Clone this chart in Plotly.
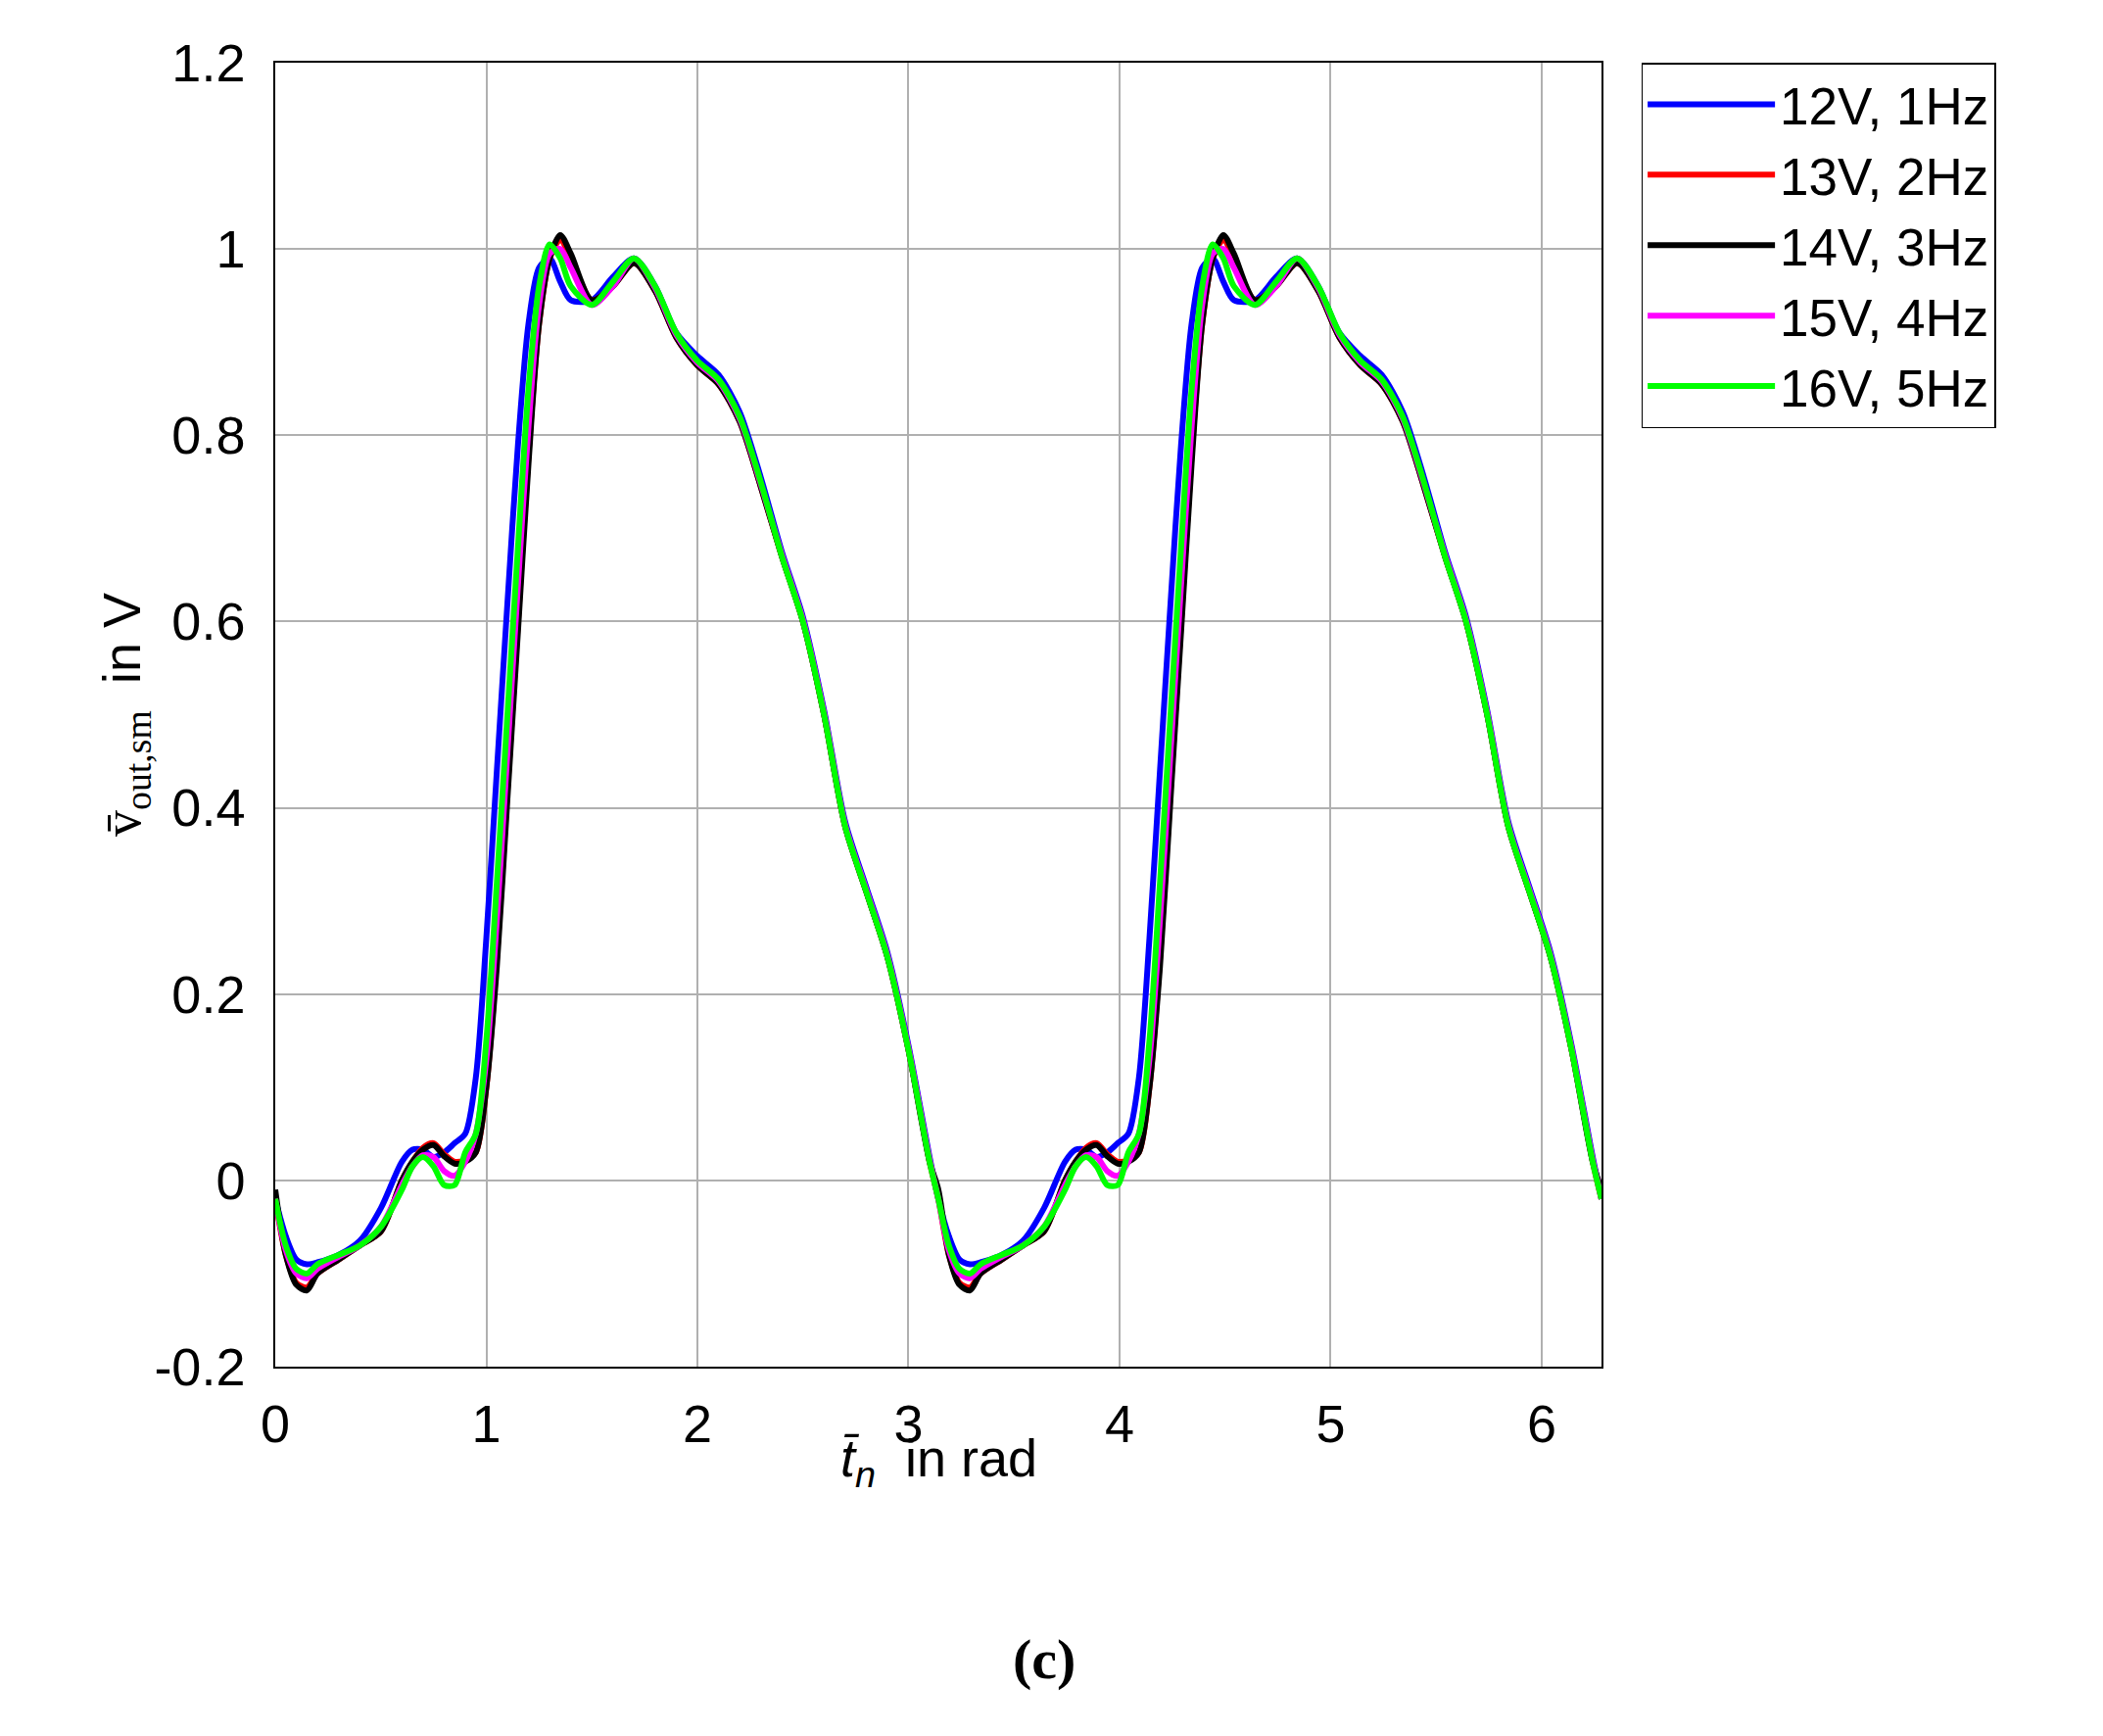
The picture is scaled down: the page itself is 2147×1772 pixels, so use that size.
import math
import plotly.graph_objects as go

# one period of the normalised time axis (the waveform repeats after pi)
t_period = [0, 0.05, 0.1, 0.15, 0.2, 0.3, 0.4, 0.5, 0.6, 0.65, 0.7, 0.75, 0.8, 0.85, 0.9,
            0.95, 1.0, 1.05, 1.1, 1.15, 1.2, 1.25, 1.3, 1.35, 1.4, 1.5, 1.6, 1.7, 1.8, 1.9,
            2.0, 2.1, 2.2, 2.3, 2.4, 2.5, 2.6, 2.7, 2.8, 2.9, 3.0, 3.1]

v_12v_1hz = [-0.02, -0.06, -0.085, -0.09, -0.088, -0.08, -0.065, -0.03, 0.02, 0.033, 0.033, 0.025, 0.03, 0.04, 0.05,
             0.11, 0.26, 0.44, 0.62, 0.79, 0.92, 0.98, 0.99, 0.965, 0.945, 0.945, 0.97, 0.99, 0.96, 0.91,
             0.885, 0.865, 0.825, 0.755, 0.675, 0.605, 0.505, 0.385, 0.315, 0.245, 0.145, 0.025]
v_13v_2hz = [-0.02, -0.08, -0.11, -0.115, -0.1, -0.085, -0.07, -0.055, 0.0, 0.02, 0.035, 0.04, 0.028, 0.02, 0.022,
             0.03, 0.10, 0.24, 0.42, 0.60, 0.78, 0.92, 0.99, 1.01, 0.99, 0.945, 0.96, 0.985, 0.955, 0.905,
             0.875, 0.855, 0.815, 0.745, 0.67, 0.6, 0.5, 0.38, 0.31, 0.24, 0.14, 0.02]
v_14v_3hz = [-0.01, -0.08, -0.112, -0.118, -0.1, -0.085, -0.07, -0.055, 0.0, 0.02, 0.033, 0.038, 0.026, 0.018, 0.02,
             0.03, 0.10, 0.23, 0.41, 0.59, 0.77, 0.92, 0.99, 1.015, 0.995, 0.945, 0.96, 0.985, 0.955, 0.905,
             0.875, 0.855, 0.815, 0.745, 0.67, 0.6, 0.5, 0.38, 0.31, 0.24, 0.14, 0.02]
v_15v_4hz = [-0.02, -0.075, -0.1, -0.105, -0.095, -0.082, -0.07, -0.05, -0.005, 0.015, 0.027, 0.025, 0.01, 0.005, 0.02,
             0.05, 0.13, 0.28, 0.46, 0.64, 0.81, 0.94, 0.995, 1.0, 0.98, 0.94, 0.96, 0.99, 0.958, 0.908,
             0.878, 0.858, 0.818, 0.748, 0.672, 0.602, 0.502, 0.382, 0.312, 0.242, 0.142, 0.022]
v_16v_5hz = [-0.02, -0.07, -0.095, -0.1, -0.09, -0.08, -0.07, -0.05, -0.01, 0.015, 0.025, 0.015, -0.005, -0.005, 0.03,
             0.05, 0.15, 0.32, 0.50, 0.68, 0.85, 0.96, 1.005, 0.99, 0.96, 0.94, 0.965, 0.99, 0.96, 0.91,
             0.88, 0.86, 0.82, 0.75, 0.67, 0.60, 0.50, 0.38, 0.31, 0.24, 0.14, 0.02]

series_names = ["12V, 1Hz", "13V, 2Hz", "14V, 3Hz", "15V, 4Hz", "16V, 5Hz"]
series_values = [v_12v_1hz, v_13v_2hz, v_14v_3hz, v_15v_4hz, v_16v_5hz]
series_colors = ["#0000ff", "#ff0000", "#000000", "#ff00ff", "#00ff00"]

x_ticks = [0, 1, 2, 3, 4, 5, 6]
y_ticks = [-0.2, 0, 0.2, 0.4, 0.6, 0.8, 1, 1.2]

t_full = t_period + [t + math.pi for t in t_period] + [2 * math.pi]

fig = go.Figure()
for name, vals, col in zip(series_names, series_values, series_colors):
    y_full = vals + vals + [vals[0]]
    fig.add_trace(go.Scatter(x=t_full, y=y_full, mode='lines', name=name,
                             line=dict(color=col, width=6, shape='spline', smoothing=0.8)))

axis_style = dict(showgrid=True, gridcolor='#b0b0b0', gridwidth=1.5, showline=True,
                  linecolor='#000000', linewidth=1.5, mirror=True, ticks='', zeroline=False,
                  tickfont=dict(family='Liberation Sans', size=54, color='#000000'))

fig.update_xaxes(range=[0, 2 * math.pi], tickvals=x_ticks, ticklabelstandoff=10, **axis_style)
fig.update_yaxes(range=[-0.2, 1.2], tickvals=y_ticks, ticktext=[str(v) for v in y_ticks],
                 ticklabelstandoff=18, **axis_style)

fig.add_annotation(text="v&#772;<sub>out,sm</sub>  <span style='font-family:Liberation Sans'>in V</span>",
                   xref='paper', yref='paper', x=-0.14, y=0.5, showarrow=False, textangle=-90,
                   font=dict(family='Liberation Serif', size=54, color='#000000'))
fig.add_annotation(text="<i>t&#772;<sub>n</sub></i>  <span style='font-family:Liberation Sans'>in rad</span>",
                   xref='paper', yref='paper', x=0.5, y=-0.1, showarrow=False,
                   font=dict(family='Liberation Sans', size=54, color='#000000'))
fig.add_annotation(text="<b>(c)</b>", xref='paper', yref='paper', x=0.58, y=-0.25,
                   showarrow=False, font=dict(family='Liberation Serif', size=58, color='#000000'))

fig.update_layout(
    width=2147, height=1772,
    margin=dict(l=273, r=520, t=56, b=385),
    paper_bgcolor='#ffffff', plot_bgcolor='#ffffff',
    legend=dict(x=1.03, y=1.0, xanchor='left', yanchor='top', bordercolor='#000000',
                borderwidth=1.5, font=dict(family='Liberation Sans', size=53, color='#000000'),
                itemwidth=130, tracegroupgap=0),
)

fig.write_html("out.html")
